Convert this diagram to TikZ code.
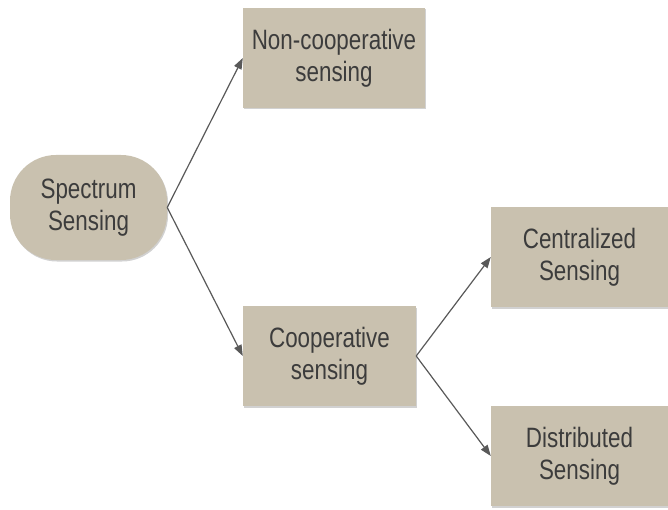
\documentclass[tikz,border=0pt]{standalone}
\usepackage{fontspec}
\setmainfont{Liberation Sans}[FakeStretch=0.8]
\usetikzlibrary{arrows.meta,shadows}
\definecolor{boxfill}{HTML}{C9C1AF}
\definecolor{txt}{HTML}{3C3C3C}
\definecolor{link}{HTML}{595959}
\begin{document}
\begin{tikzpicture}[x=1pt,y=1pt,
  every node/.style={font=\fontsize{28}{32}\selectfont, text=txt, align=center, inner sep=0pt},
  box/.style={fill=boxfill, draw=none,
    drop shadow={shadow xshift=1pt, shadow yshift=-1.5pt, opacity=0.18, fill=black}},
  rootbox/.style={box, rounded corners=46pt},
  link/.style={draw=link, line width=1.2pt, -{Triangle[length=11pt,width=8pt]}}]
  \useasboundingbox (0,0) rectangle (668,-510);

  % category boxes
  \node[rootbox, minimum width=157pt, minimum height=105pt] (ss) at (88.5,-207.5) {Spectrum\\Sensing};
  \node[box, minimum width=182pt, minimum height=100pt] (nc) at (334,-58) {Non-cooperative\\sensing};
  \node[box, minimum width=173pt, minimum height=100pt] (co) at (329.5,-356) {Cooperative\\sensing};
  \node[box, minimum width=177pt, minimum height=100pt] (ce) at (579.5,-257) {Centralized\\Sensing};
  \node[box, minimum width=177pt, minimum height=100pt] (di) at (579.5,-456) {Distributed\\Sensing};

  % branches
  \draw[link] (ss.east) -- (nc.west);
  \draw[link] (ss.east) -- (co.west);
  \draw[link] (co.east) -- (ce.west);
  \draw[link] (co.east) -- (di.west);
\end{tikzpicture}
\end{document}
